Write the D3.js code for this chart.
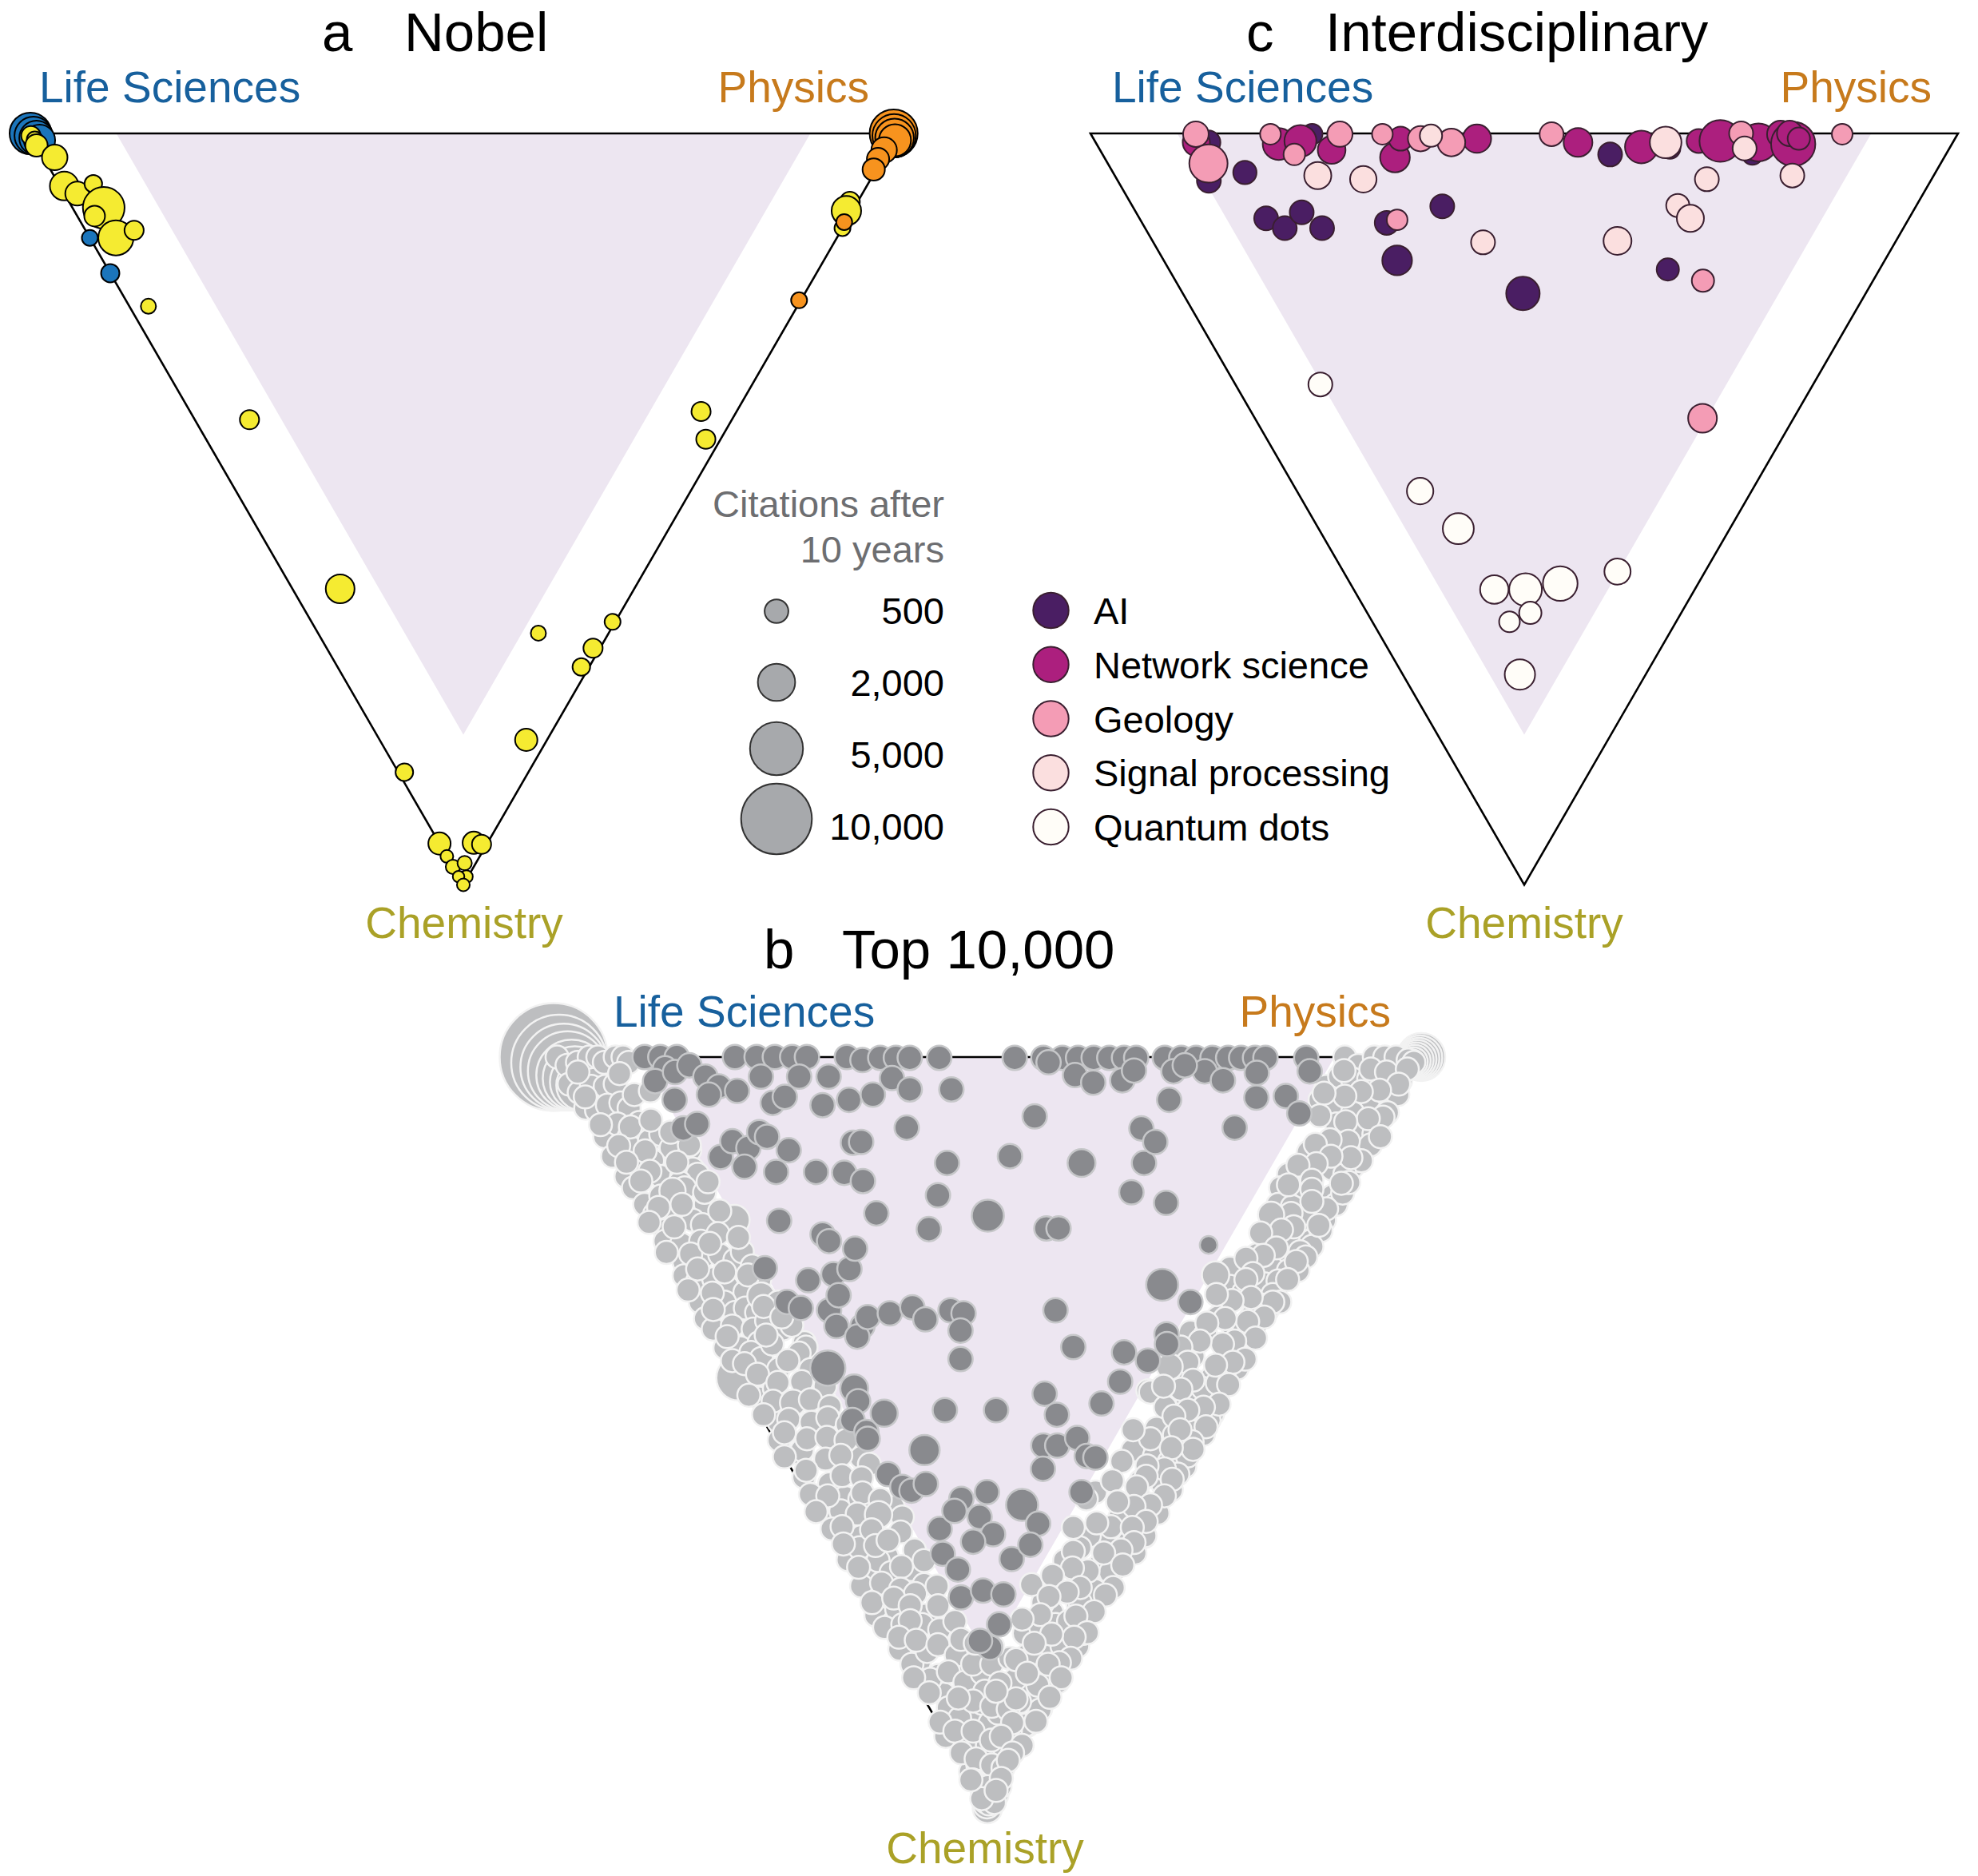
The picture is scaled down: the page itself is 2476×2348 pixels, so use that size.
<!DOCTYPE html>
<html><head><meta charset="utf-8">
<script src="https://cdn.jsdelivr.net/npm/d3@7"></script>
<style>body{margin:0;background:#fff}</style>
</head><body>
<svg id="chart" width="2476" height="2348"></svg>
<script>
// ---------- DATA (ternary shares in %: [physics, chemistry, citations after 10 years]; life = 100 - physics - chemistry) ----------
const fields = ["Life Sciences", "Physics", "Chemistry"];
const sizeTicks = [500, 2000, 5000, 10000];
const sizeTickLabels = ["500", "2,000", "5,000", "10,000"];
const topicNames = ["AI", "Network science", "Geology", "Signal processing", "Quantum dots"];

// Panel a: Nobel papers, by prize field
const nobelLife = [[0.1,0,2700],[0.3,0.3,2100],[0.5,0.6,1600],[0.7,0.9,1200],[0,13.9,90],[0,18.6,180]];
const nobelChem = [[0,0.3,220],[0.2,0.8,90],[0,1.6,400],[1.3,3.2,640],[0.5,7.0,940],[1.5,8.0,520],[4.0,6.7,150],
  [3.6,9.9,2700],[2.0,11.0,300],[3.0,13.9,1700],[5.6,12.9,220],[2.2,23.0,67],[6.3,38.1,220],[5.5,60.6,940],
  [0.7,85.0,150],[25.4,66.5,67],[34.7,65.0,90],[30.7,68.5,220],[28.1,71.0,150],[16.9,80.7,400],[0,94.5,400],
  [4.0,94.4,400],[4.8,94.6,220],[0,96.2,18],[0,97.6,47],[1.6,97.1,47],[0.9,98.9,18],[0,98.9,5],[0,100,18],
  [58.9,37.0,220],[57.6,40.7,220],[90.0,9.1,260],[89.0,10.3,1020],[87.4,12.6,90]];
const nobelPhys = [[99.6,0,3900],[99.5,0.3,3000],[99.4,0.6,2200],[99.3,0.9,1300],[97.4,2.2,640],[96.1,3.4,400],
  [94.9,4.8,400],[88.0,11.8,90],[77.6,22.2,90]];

// Panel c: interdisciplinary topics
const topicAI = [[13.0,1.2,515],[10.5,6.3,515],[15.2,5.2,470],[25.5,0.1,300],[58.5,2.8,515],[65.8,2.0,300],[74.9,2.8,300],
  [14.6,11.3,515],[16.1,12.6,515],[19.1,10.5,515],[20.4,12.6,515],[28.2,11.9,515],[35.7,9.7,515],[26.9,16.9,1040],
  [39.2,21.3,1480],[57.5,18.1,400]];
const topicNetwork = [[11.6,1.2,780],[21.0,1.4,1290],[23.7,1.0,1290],[26.7,2.2,840],[33.5,3.2,1040],[35.4,0.7,515],
  [44.2,0.7,900],[55.6,1.2,940],[62.6,1.8,1380],[69.6,1.0,515],[72.1,1.0,2700],[76.4,1.2,2090],[79.5,0.1,780],
  [80.3,1.4,3160],[80.6,0,640],[81.3,0.7,400]];
const topicGeology = [[12.1,0.1,640],[11.6,4.0,2150],[20.7,0.1,300],[22.1,2.8,350],[28.7,0.1,620],[33.6,0.1,300],
  [37.7,0.7,620],[41.0,1.2,840],[53.1,0.1,515],[75.0,0,515],[86.6,0.1,300],[29.6,11.5,300],[60.8,19.6,400],[51.6,37.9,940]];
const topicSignal = [[23.4,5.6,780],[28.4,6.1,720],[39.1,0.3,400],[65.7,1.2,1250],[74.4,2.0,515],[78.1,5.6,515],
  [68.0,6.1,515],[38.0,14.5,515],[53.6,14.3,860],[62.9,9.6,460],[63.5,11.3,780]];
const topicQuantum = [[9.8,33.4,515],[14.2,47.6,720],[16.1,52.6,1180],[31.6,58.3,700],[16.2,60.7,900],[19.8,60.7,1380],
  [24.2,59.9,1630],[18.8,63.8,400],[15.8,65.0,300],[13.5,72.0,1105]];

// Panel b: top 10,000 papers (citations default when omitted)
const top10kPiles = [[0,0,26000],[0.27,0.74,20000],[0.5,1.35,16000],[0.68,1.85,13000],[0.88,2.41,10000],[1.04,2.84,8000],
  [1.21,3.32,6000],[1.37,3.74,4500],
  [100,0,3880],[99.8,0.1,3250],[99.6,0.2,2675],[99.4,0.3,2157],[99.2,0.4,1694],[99.0,0.5,1288],[98.8,0.6,937],[98.6,0.7,642],
  [0,100,1000],[0.2,99.5,800],[0.4,99,650]];
const top10kOther = [
  [0.4,0],[1.0,1.1],[2.4,0.7],[4.1,0],[5.1,0],[5.5,0.7],[7.1,0],[8.0,0],[8.3,0.7],
  [0,3.6],[0.6,4.7],[2.4,3.9],[4.0,3.9],[5.3,3.6],[0.3,6.8],[1.4,7.1],[3.0,6.4],[4.7,6.1],[5.3,6.8],
  [0.6,10.6],[2.9,8.9],[3.4,10.6],[5.5,8.7],[0.2,13.2],[2.9,12.1],[5.5,11.1],[7.2,10.3],[7.5,12.1],[9.5,12.4],[9.8,11.7],
  [0.4,15.9],[2.6,14.6],[4.5,13.8],[4.4,15.9],[6.8,15.9],[8.6,14.9],[8.8,15.6],
  [0.5,17.4],[0.7,19.6],[3.1,18.5],[6.2,16.7],[6.4,17.4],[7.7,19.6],[10.0,21.7,1100],
  [1.2,20.9],[1.3,23.1],[3.7,20.9],[5.2,21.7],[6.0,22.3],[0.6,24.5],[2.3,24.9],[4.7,24.5],
  [1.4,27.3],[3.9,26.6],[6.0,26.3],[7.4,27.0],[8.8,25.9],[0.5,29.1],[1.7,29.8],[3.7,29.5],[4.7,30.5],[6.4,31.3],
  [0.6,32.6],[0.1,34.8],[3.4,32.6],[3.9,34.0],[5.4,33.4],[6.4,34.0],
  [0.3,36.2],[2.7,35.8],[4.9,36.2],[7.0,35.1],[8.3,36.2],[9.9,38.0],
  [0.4,38.7],[2.2,38.7],[4.7,38.0],[0,42.7,3300],[0.4,40.4],[3.1,39.3],[3.9,40.1],
  [8.9,29.7],[6.1,38.2],[9.6,35.7],[9.8,38.6],[5.2,41.5],
  [1.1,45.4],[1.7,48.5],[0.5,51.0],[2.1,52.8],[0.9,55.9],[3.4,56.8],[8.8,53.3],[4.3,58.6],[1.7,61.6],[3.6,63.8],
  [0.5,66.9],[2.1,68.2],[5.2,66.5],[0.3,70.4],[1.8,71.8],[7.0,68.7],[9.2,59.9],
  [0,74.3],[1.5,75.3],[5.7,74.3],[0.5,78.8],[1.9,80.5],[3.2,82.3],[6.6,81.3],[2.6,84.8],[3.9,86.7],[7.2,84.4],[7.8,86.2],
  [1.6,88.5],[4.1,89.3],[7.5,88.5],[1.2,92.0],[3.8,92.8],[7.1,92.0],[0.5,95.1],[2.3,95.9],[0.6,97.6],[0.5,99.4],
  [3.4,44.1],[2.5,52.3],[2.9,60.4],[5.9,58.8],[9.6,61.2],[0.7,62.8],[2.6,65.3],[3.9,67.0],[4.6,68.6],[7.2,68.2],[7.6,70.2],
  [2.8,73.5],[0.2,75.9],[2.5,75.5],[4.7,75.5],[0.9,80.8],[3.5,79.1],[2.0,82.8],
  // left band, second layer
  [1.8,2.0],[6.5,2.2],[1.0,5.3],[6.8,5.0],[8.9,4.5],[0.9,9.0],[4.2,9.3],[7.0,8.4],[1.6,11.8],[4.3,12.5],[8.5,10.0],
  [1.4,14.0],[3.5,15.2],[7.2,14.0],[1.8,16.5],[4.8,17.8,700],[8.4,18.0],[9.5,16.6],[2.1,20.0],[5.0,19.6],[8.9,20.5],
  [0,22.0],[2.6,22.6],[7.2,23.5],[9.3,24.0],[0,26.0],[2.7,26.2],[5.6,24.8],[9.0,27.8],[2.5,28.2],[5.4,28.6],[7.9,29.0],
  [0,31.0],[2.6,31.4],[8.0,31.8,800],[9.6,32.6],[1.6,33.6],[7.6,33.2],[9.0,34.6],[1.4,37.2],[6.0,37.0],[8.6,39.4],
  [1.6,40.8],[6.8,40.4],[8.8,41.6],[2.4,42.2],[4.2,43.3],[7.0,43.2],[9.4,43.8],
  [0,45.0],[2.4,45.8],[4.6,46.0,700],[6.8,45.6],[8.6,46.5],[0.4,47.6],[3.0,48.2],[5.4,48.6],[7.6,48.0],[9.4,48.9],
  [1.6,50.0],[3.8,50.8],[6.2,50.6],[8.2,51.0],[0,53.2],[4.6,53.5],[6.6,53.0],[9.3,54.2],[1.6,55.0],[5.4,55.7],[7.5,56.0],
  [0.5,58.2],[2.4,58.4],[6.6,58.0],[8.2,58.9],[0,60.5],[4.6,60.8],[7.0,60.9,800],[2.0,62.5],[5.2,62.9],[8.4,63.2],
  [1.0,64.8],[4.6,65.0],[6.4,64.3],[8.8,65.6],[1.2,67.9],[6.2,67.8],[9.2,67.0],
  [2.8,70.0],[4.6,70.8],[6.0,71.4],[9.0,70.4],[0.4,72.6],[3.2,72.0],[4.6,73.0],[7.8,73.0],
  [3.6,75.0],[6.4,76.2],[8.0,77.6],[1.2,77.2],[3.0,77.6],[5.2,78.2],[6.6,79.6],
  [0.2,82.6],[4.6,81.8],[5.8,83.2],[8.4,82.0],[1.0,84.6],[2.2,86.6],[5.0,87.4],[6.4,86.0],
  [2.8,88.0],[6.0,88.6],[0,90.4],[2.4,91.2],[4.2,91.6],[6.0,92.0],[1.8,94.2],[3.6,95.6],[1.0,96.8],[2.0,98.2],[1.2,99.2],[0.6,98.0],
  // bottom cone, right side
  [17.7,75.3],[20.5,73.9],[24.1,72.6],[17.4,77.4],[20.6,76.6],[14.8,79.6],[17.7,79.6],[21.2,78.4],[14.2,82.3],[16.6,83.1],
  [11.5,84.8],[12.8,86.7],[10.2,88.9],
  [26.5,70.8],[29.1,70.0],[31.2,67.3],[34.0,66.0],[36.2,63.8],[36.7,60.7],[39.3,60.7],[42.4,57.6],[45.5,54.5],[46.9,52.0],
  [49.8,50.2],[52.2,47.5],[54.4,44.4],[58.1,41.4],[46.3,44.4],[45.8,49.8],[40.8,52.4],
  // right band
  [91.2,0],[92.2,1.1],[94.6,0],[95.8,0],[97.1,0],[98.3,0.4],[98.8,0.7],
  [87.1,3.9],[89.3,2.6],[90.6,2.9],[92.5,2.9],[94.2,3.2],[96.1,3.1],
  [85.5,5.7],[86.3,6.8],[89.0,6.1],[91.4,5.7],[93.6,5.0],[94.8,5.0],
  [85.8,8.9],[88.4,7.4],[87.5,10.3],[89.4,10.3],[92.4,7.4],
  [87.2,12.4],[88.3,11.7],[80.8,12.8,780],[84.8,14.6],[86.2,13.8],[82.3,14.9],[83.4,15.6],
  [76.9,15.6],[75.1,17.4],[76.2,18.5],[77.9,17.4],[80.5,18.5],[80.4,19.6],[81.9,18.1],[83.3,16.7],
  [73.7,19.6],[75.2,19.9],[75.2,21.7],[76.8,20.9],[78.0,21.7],
  [71.3,23.8],[72.9,24.5],[75.0,24.5],[76.9,23.1],[74.8,25.2],
  [67.9,26.3],[70.4,26.3],[73.1,25.9],[73.4,26.6],[63.9,28.1],[68.8,28.1],[70.5,28.4],[71.6,28.4],
  [62.7,30.5],[63.9,31.3],[66.9,30.2],[68.6,29.8],[67.1,31.6],[65.2,33.0],[63.3,34.4],[65.4,33.7],[67.4,32.6],
  [60.4,35.8],[61.5,36.2],[55.1,36.6],[53.8,39.8],[57.2,40.2],[50.9,42.6],[54.6,42.6],[59.3,34.6],[56.7,36.9],
  [46.5,44.6],[47.2,46.6],[50.3,45.4],[52.8,44.1],[54.8,43.4],[56.9,41.3],
  [44.8,49.4],[46.4,50.3],[48.8,49.9],[51.4,48.3],[40.6,52.3],[42.7,53.1],[44.0,53.9],[46.5,53.1],
  [39.5,56.4],[41.8,56.8],[44.2,55.5],
  [33.5,57.9],[34.7,61.2],[38.2,58.4],[36.7,62.1],[36.3,63.7],[34.1,64.5],[31.2,64.5],[33.0,62.5],[29.9,63.7],
  [29.0,67.7],[29.9,68.6],[29.2,70.6],[26.9,71.0],[24.4,72.6],[25.4,67.0],[28.0,65.3],[22.3,71.0],[20.1,72.6],[20.0,70.2],
  [15.9,76.7],[18.2,75.9],[20.1,75.5],[21.8,75.1],[22.7,76.7],[17.4,78.8],[19.4,78.4],[15.1,80.0],[15.4,82.0],[16.6,82.4],
  [12.2,82.8],[12.3,84.8],[12.6,86.9],[9.9,88.9],[7.8,89.7],[7.6,87.3],[7.5,84.4],[5.5,85.7],[4.0,85.3],
  [0.3,88.5],[1.4,89.7],[3.5,89.7],[5.0,90.9],[0.7,92.6],[2.0,93.4],[3.4,94.2],[4.5,94.6],[0.2,96.2],[1.5,97.1],
  [0,98.7],[2.9,97.1],[0,96.2],
  [8.7,75.1],[8.2,77.5],[7.9,80.8],[10.1,80.8],[12.6,80.0],[11.8,82.8],[9.8,83.3],[7.3,86.4],
  // right band, second layer
  [90.2,1.8],[93.4,1.6],[95.0,2.0],[97.6,1.6],[95.6,3.6],[93.0,4.4],[90.8,4.6],[88.6,5.2],[86.4,4.8],
  [91.6,8.0],[89.8,8.2],[87.0,8.6],[84.4,7.8],[90.0,10.6],[86.0,11.2],[84.0,11.0],[82.0,11.6],
  [85.2,13.4],[83.0,13.2],[80.8,14.2],[78.6,14.4],[82.4,16.8],[79.2,16.4],[78.6,17.6],[76.2,17.0],
  [79.0,20.2],[77.8,19.2],[74.6,20.8],[72.2,21.0,700],[77.0,22.4],[74.0,22.6],[72.4,23.0],[69.8,23.4],
  [72.0,27.2],[70.6,25.4],[68.6,26.4],[66.4,26.8],[69.8,29.6],[66.2,28.8],[65.0,29.6],[61.8,29.0,800],
  [66.6,32.6],[64.4,32.0],[62.0,32.4],[60.6,31.6],[64.6,34.6],[62.4,35.2],[60.0,34.8],[57.6,35.4],
  [62.2,37.4],[59.6,37.8],[58.0,38.2],[55.6,37.8],[53.0,38.6],[59.6,40.2],[58.0,40.6],[55.8,41.0],[52.8,40.6],[50.4,41.2,700],
  [56.0,43.6],[52.2,43.0],[50.2,44.2],[48.4,43.8],[53.6,46.2],[51.6,46.6],[49.6,47.0],[47.6,47.8],
  [50.6,49.2],[48.0,51.2],[47.4,49.6],[43.4,50.8],[42.0,49.6],[47.6,52.2],[45.2,52.0],[43.0,54.8],[41.2,54.4],[38.6,53.8],
  [43.2,56.2],[40.4,55.8],[38.6,57.2],[36.2,56.4],[41.2,58.4],[39.0,59.6],[37.0,59.8],[35.4,59.2],[32.0,58.8],
  [37.4,61.8],[35.4,62.6],[31.6,62.0],[28.6,62.6],[34.6,64.6],[32.6,65.6],[30.4,66.0],[27.0,65.8],
  [31.8,67.6],[27.4,68.4],[25.8,68.0],[23.0,69.0],[27.8,71.6],[25.4,70.6],[23.6,71.2],[21.2,71.8],
  [25.4,73.8],[23.0,74.4],[19.0,74.2],[16.6,74.8],[23.2,76.6],[21.4,77.2],[19.0,76.8],[16.4,78.0],
  [19.6,80.0],[18.0,80.6],[16.6,80.8],[13.2,80.2],[17.2,82.6],[14.0,83.6],[13.6,82.0],
  [14.6,85.2],[10.8,85.8],[9.0,86.8],[11.4,88.4],[8.6,88.6],[6.4,90.4],[8.2,91.6],[6.6,92.6],[5.6,93.6],[3.6,96.0],[2.2,97.6],
  [9.6,78.0],[11.4,78.4],[10.6,85.4],[8.8,84.4]
];
const top10kInter = [
  [10.5,0],[12.3,0],[14.2,0],[12.1,1.5],[10.1,3.2],[13.0,2.0],[15.1,1.1],[16.2,2.6],[17.1,3.9],[18.9,4.5],
  [11.1,5.7],[15.4,5.0],[10.2,9.5],[12.1,8.9],[12.6,13.3],[15.0,11.2],[16.4,12.1],[14.7,14.6],[20.9,12.4],[18.7,10.0],
  [19.3,10.6],[18.0,15.3],[22.6,15.3],[25.8,15.4],[27.4,16.5],[28.8,11.4],[29.8,11.3],[15.1,21.8],[10.3,28.1],[14.5,29.7],
  [17.8,28.9],[20.0,28.2],[19.2,23.6],[19.5,24.5],[22.0,25.5],[10.6,32.6],[11.8,33.4],[14.9,33.7],[14.7,35.8],[17.7,35.8],
  [16.4,37.2],[10.9,41.4,1700],[20.9,0],[23.4,0],[25.5,0],[27.5,0],[29.2,0],[33.8,0],[35.4,0.4],[22.6,2.6],
  [27.0,2.6],[30.4,2.6],[22.2,6.1],[24.0,5.3],[27.8,6.4],[31.2,5.7],[34.3,5.0],[37.6,0.1],[39.4,0.1],[41.0,0.1],
  [44.4,0.1],[53.1,0.1],[56.4,0.1],[58.6,0.1],[60.4,0.1],[62.2,0.1],[64.0,0.1],[65.7,0.1],[67.1,0.1],[70.4,0.1],
  [72.3,0.1],[74.0,0.1],[75.9,0.1],[77.7,0.1],[79.2,0.1],[80.8,0.1],[82.0,0.1],[86.7,0.1],[37.6,2.8],[38.9,4.3],
  [56.7,0.7],[58.9,2.4],[60.5,3.4],[64.0,3.1],[70.5,1.9],[74.1,1.9],[75.6,3.1],[86.2,1.9],[43.7,4.3],[68.1,5.7],
  [78.3,5.4],[81.8,5.2],[51.5,7.9],[36.0,9.4],[63.0,9.5],[73.8,9.4],[82.2,7.5],[38.3,14.1],[46.0,13.2],[53.8,14.1,850],
  [61.0,14.1],[63.7,11.3],[72.2,1.1],[80.0,2.1],[57.6,18.0],[60.9,19.4],[63.0,25.0,150],[55.0,30.3,1300],[57.1,32.6],[52.2,36.9],
  [35.1,18.4],[26.8,20.8],[31.8,22.9],[39.5,21.1,1300],[17.0,31.7],[18.9,34.6],[21.7,34.1],[24.7,33.3],[25.4,34.9],[28.9,33.7],
  [30.2,34.1],[28.7,36.4],[26.8,40.2],[41.0,33.7],[45.4,22.8],[46.8,22.8],[40.6,38.6],[46.1,39.3],[48.3,40.4],[51.6,38.2],
  [12.6,44.1,850],[12.2,45.8],[10.3,48.3],[14.4,47.4,780],[11.1,49.9],[10.8,50.8],[10.8,55.5],[11.6,57.2],[12.4,57.7],[14.5,56.8],
  [21.6,47.0],[27.5,47.0],[16.6,52.3,1100],[34.2,44.8],[34.2,47.6],[43.7,43.2],[40.1,46.1],[30.6,51.7],[29.0,54.8],[32.2,51.7],
  [35.0,50.7],[34.9,53.1],[35.8,53.3],[31.9,57.9],[17.6,58.8],[21.0,57.9],[24.2,59.6,1300],[24.8,62.1],[13.1,62.8],[16.0,60.4],
  [18.5,61.2],[18.9,63.5],[16.1,64.5],[11.8,66.1],[12.5,68.2],[19.4,66.8],[22.5,64.9],[11.0,71.9],[14.0,71.0],[16.1,71.5],
  [13.6,75.5],[11.0,78.6],[10.3,77.7],[66.0,1.8]
];

// ---------- DRAWING ----------
const svg = d3.select("#chart");
const FONT = "'Liberation Sans', Arial, Helvetica, sans-serif";
const SIDE = 1086, HGT = SIDE * Math.sqrt(3) / 2;
const rScale = d3.scaleSqrt().domain([0, 10000]).range([6.4, 44.3]);
const fieldColors = {"Life Sciences": "#17609d", "Physics": "#c77a1c", "Chemistry": "#aaa127"};
const triCorners = [[0,0],[100,0],[0,100]];
const regionCorners = [[10,0],[90,0],[10,80]];

function makeTernary(x0, y0) {
  const sx = d3.scaleLinear().domain([0, 100]).range([x0, x0 + SIDE]);
  const sy = d3.scaleLinear().domain([0, 100]).range([y0, y0 + HGT]);
  return {x: d => sx(d[0] + d[1] / 2), y: d => sy(d[1])};
}

function panel(cfg) {
  const t = makeTernary(cfg.x0, cfg.y0);
  const g = svg.append("g");
  const line = d3.line().x(t.x).y(t.y);
  g.append("path").attr("d", line(regionCorners) + "Z").attr("fill", "#ede6f1");
  g.append("path").attr("d", line(triCorners) + "Z").attr("fill", "none")
    .attr("stroke", "#000").attr("stroke-width", 2.6).attr("stroke-linejoin", "miter");
  g.append("text").attr("x", cfg.title[0]).attr("y", cfg.title[2]).text(cfg.letter)
    .attr("font-family", FONT).attr("font-size", 69).attr("fill", "#000");
  g.append("text").attr("x", cfg.title[1]).attr("y", cfg.title[2]).text(cfg.name)
    .attr("font-family", FONT).attr("font-size", 69).attr("fill", "#000");
  cfg.labels.forEach((l, i) => {
    g.append("text").attr("x", l[0]).attr("y", l[1]).attr("text-anchor", l[2]).text(fields[i])
      .attr("font-family", FONT).attr("font-size", 55).attr("fill", fieldColors[fields[i]]);
  });
  return {g, t};
}

function dots(g, t, data, fill, stroke, sw, defV) {
  g.append("g").selectAll("circle").data(data).join("circle")
    .attr("cx", t.x).attr("cy", t.y)
    .attr("r", d => rScale(d[2] !== undefined ? d[2] : defV))
    .attr("fill", fill).attr("stroke", stroke).attr("stroke-width", sw);
}

// Panel a
const pa = panel({x0: 37, y0: 167, letter: "a", name: "Nobel", title: [403, 506, 64],
  labels: [[49, 128, "start"], [1088, 128, "end"], [581, 1174, "middle"]]});
dots(pa.g, pa.t, nobelLife, "#1b75bb", "#000", 2, 450);
dots(pa.g, pa.t, nobelChem, "#f5eb31", "#000", 2, 450);
dots(pa.g, pa.t, nobelPhys, "#f7931e", "#000", 2, 450);

// Panel c
const pc = panel({x0: 1365, y0: 167, letter: "c", name: "Interdisciplinary", title: [1560, 1659, 64],
  labels: [[1392, 128, "start"], [2418, 128, "end"], [1908, 1174, "middle"]]});
const topicColors = ["#4a1e63", "#ac1f7e", "#f49cb5", "#fbdfdf", "#fffdf8"];
const topicData = [topicAI, topicNetwork, topicGeology, topicSignal, topicQuantum];
topicData.forEach((arr, i) => dots(pc.g, pc.t, arr, topicColors[i], "#3a1f30", 2, 450));

// Panel b
const pb = panel({x0: 693, y0: 1323, letter: "b", name: "Top 10,000", title: [956, 1054, 1212],
  labels: [[768, 1285, "start"], [1741, 1285, "end"], [1233, 2332, "middle"]]});
dots(pb.g, pb.t, top10kPiles, "#bdbec0", "#f2f2f2", 2.5, 450);
dots(pb.g, pb.t, top10kOther, "#bdbec0", "#f2f2f2", 2.5, 450);
dots(pb.g, pb.t, top10kInter, "#898a8e", "#c6c7c9", 2.5, 550);

// Size legend
const lg = svg.append("g");
lg.append("text").attr("x", 1182).attr("y", 647).attr("text-anchor", "end").text("Citations after")
  .attr("font-family", FONT).attr("font-size", 47).attr("fill", "#6d6e71");
lg.append("text").attr("x", 1182).attr("y", 704).attr("text-anchor", "end").text("10 years")
  .attr("font-family", FONT).attr("font-size", 47).attr("fill", "#6d6e71");
const sizeY = d3.scaleOrdinal().domain(sizeTicks).range([765, 854, 937, 1025]);
const sizeLabelY = d3.scalePoint().domain(sizeTicks).range([781, 1051]);
sizeTicks.forEach((v, i) => {
  lg.append("circle").attr("cx", 972).attr("cy", sizeY(v)).attr("r", rScale(v))
    .attr("fill", "#a7a9ac").attr("stroke", "#333").attr("stroke-width", 2);
  lg.append("text").attr("x", 1182).attr("y", sizeLabelY(v)).attr("text-anchor", "end").text(sizeTickLabels[i])
    .attr("font-family", FONT).attr("font-size", 47).attr("fill", "#000");
});
// Topic legend
const topicY = d3.scalePoint().domain(topicNames).range([764, 1035]);
topicNames.forEach((n, i) => {
  lg.append("circle").attr("cx", 1315.5).attr("cy", topicY(n)).attr("r", 22.2)
    .attr("fill", topicColors[i]).attr("stroke", "#3a1f30").attr("stroke-width", 2);
  lg.append("text").attr("x", 1369).attr("y", topicY(n) + 17).text(n)
    .attr("font-family", FONT).attr("font-size", 47).attr("fill", "#000");
});
</script>
</body></html>
